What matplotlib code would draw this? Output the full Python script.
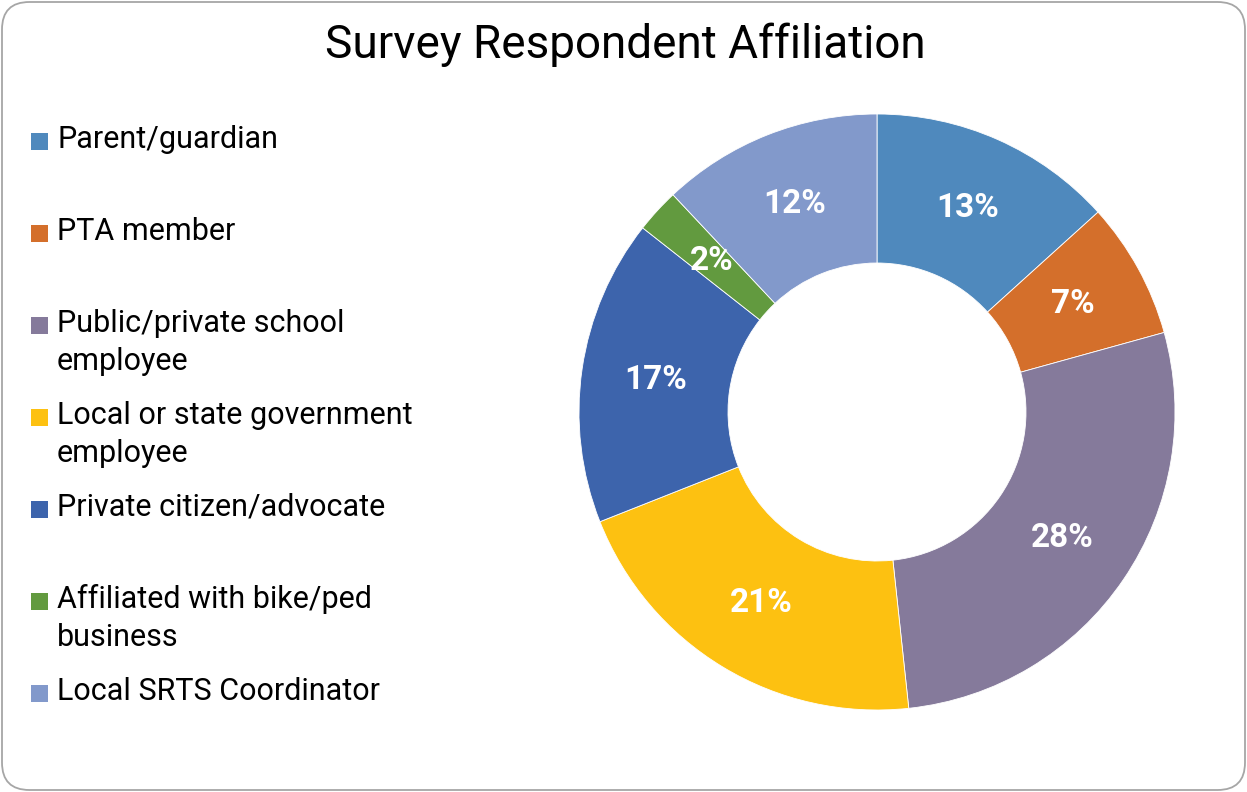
import matplotlib
matplotlib.use("Agg")
import matplotlib.pyplot as plt
from matplotlib.patches import FancyBboxPatch, Rectangle

plt.rcParams['font.family'] = ['Roboto', 'DejaVu Sans']

categories = ["Parent/guardian", "PTA member", "Public/private school\nemployee",
              "Local or state government\nemployee", "Private citizen/advocate",
              "Affiliated with bike/ped\nbusiness", "Local SRTS Coordinator"]
values = [13.3, 7.4, 27.6, 20.7, 16.6, 2.4, 12.0]
colors = ["#4F89BD", "#D46F2B", "#857A9B", "#FDC111", "#3D64AC", "#629A3F", "#8299CB"]
title = "Survey Respondent Affiliation"

W, H = 1247, 792
fig = plt.figure(figsize=(W/100, H/100), dpi=100)

# border
border = FancyBboxPatch((2/W, 2/H), (W-4)/W, (H-4)/H,
                        boxstyle="round,pad=0,rounding_size=0.022",
                        transform=fig.transFigure, facecolor="none",
                        edgecolor="#A6A6A6", linewidth=1.3, mutation_aspect=W/H,
                        zorder=5)
fig.patches.append(border)

cx, cy, R = 877, 412, 298
ax = fig.add_axes([(cx-R)/W, (H-cy-R)/H, 2*R/W, 2*R/H])
wedges, texts, autotexts = ax.pie(values, colors=colors, startangle=90, counterclock=False,
       radius=1.0, autopct=lambda p: f"{p:.0f}%", pctdistance=0.75,
       wedgeprops=dict(width=0.5, edgecolor="white", linewidth=0.6),
       textprops=dict(color="white", fontsize=24, fontweight="bold"))
ax.set_xlim(-1, 1); ax.set_ylim(-1, 1)
ax.set_aspect("equal")
ax.axis("off")

fig.text(625/W, 1-45/H, title, ha="center", va="center", fontsize=33, color="black")

# legend
base0 = 148
step = 92
line_gap = 38
for i, (lab, col) in enumerate(zip(categories, colors)):
    b = base0 + i*step
    fig.patches.append(Rectangle((31/W, 1-(b+2)/H), 17/W, 17/H, transform=fig.transFigure,
                                 facecolor=col, edgecolor="none"))
    for j, line in enumerate(lab.split("\n")):
        fig.text(57/W, 1-(b + j*line_gap)/H, line, ha="left", va="baseline",
                 fontsize=22, color="black")

fig.savefig("out.png", dpi=100)
